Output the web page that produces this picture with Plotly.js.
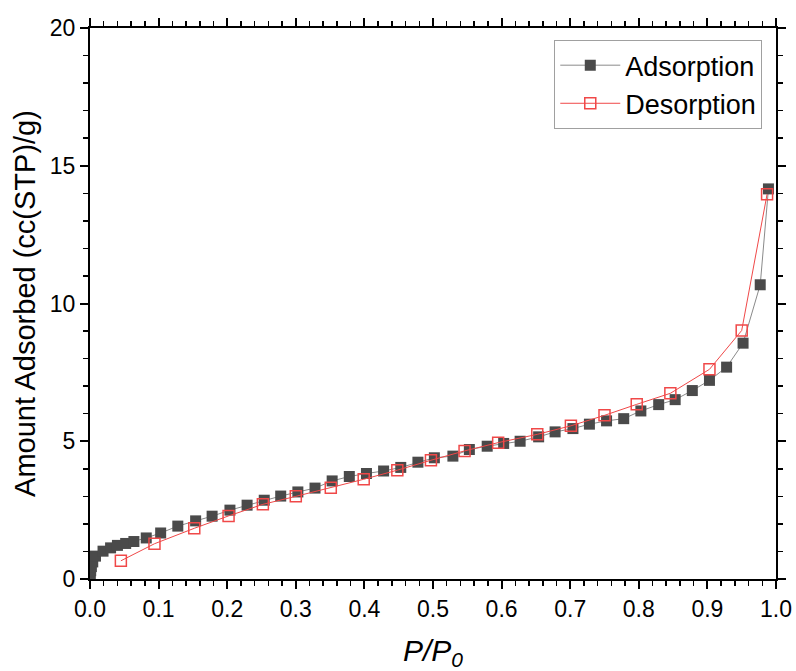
<!DOCTYPE html>
<html>
<head>
<meta charset="utf-8">
<script src="https://cdn.plot.ly/plotly-3.0.1.min.js"></script>
<style>html,body{margin:0;padding:0;background:#fff;}#chart{width:796px;height:671px;}</style>
</head>
<body>
<div id="chart"></div>
<script>
const adsX = [0.0005, 0.001, 0.002, 0.004, 0.008, 0.019, 0.030, 0.040, 0.052, 0.064, 0.082, 0.103, 0.128, 0.154, 0.178, 0.204, 0.229, 0.254, 0.278, 0.303, 0.328, 0.353, 0.378, 0.403, 0.428, 0.453, 0.478, 0.502, 0.529, 0.553, 0.579, 0.603, 0.627, 0.654, 0.678, 0.704, 0.728, 0.753, 0.778, 0.803, 0.829, 0.853, 0.878, 0.903, 0.928, 0.952, 0.977, 0.989];
const adsY = [0.15, 0.30, 0.45, 0.62, 0.83, 1.01, 1.13, 1.22, 1.29, 1.36, 1.49, 1.67, 1.92, 2.11, 2.28, 2.50, 2.68, 2.86, 3.01, 3.16, 3.30, 3.56, 3.72, 3.83, 3.92, 4.05, 4.24, 4.40, 4.46, 4.70, 4.82, 4.92, 5.00, 5.16, 5.34, 5.46, 5.62, 5.74, 5.82, 6.10, 6.33, 6.51, 6.84, 7.21, 7.69, 8.56, 10.68, 14.16];
const desX = [0.987, 0.950, 0.903, 0.846, 0.797, 0.750, 0.701, 0.652, 0.595, 0.546, 0.497, 0.448, 0.399, 0.351, 0.300, 0.252, 0.202, 0.152, 0.094, 0.045];
const desY = [13.97, 9.02, 7.61, 6.74, 6.34, 5.94, 5.56, 5.25, 4.95, 4.65, 4.31, 3.95, 3.62, 3.31, 3.00, 2.71, 2.29, 1.84, 1.28, 0.66];
const xTickVals = [0, 0.1, 0.2, 0.3, 0.4, 0.5, 0.6, 0.7, 0.8, 0.9, 1.0];
const xTickText = ["0.0", "0.1", "0.2", "0.3", "0.4", "0.5", "0.6", "0.7", "0.8", "0.9", "1.0"];
const yTickVals = [0, 5, 10, 15, 20];
const yTickText = ["0", "5", "10", "15", "20"];

const font = "Arial, 'Liberation Sans', sans-serif";
const traces = [
  {x: adsX, y: adsY, name: "Adsorption", type: "scatter", mode: "lines+markers",
   line: {color: "#8a8a8a", width: 1},
   marker: {symbol: "square", size: 11, color: "#4a4a4a", line: {width: 0}}},
  {x: desX, y: desY, name: "Desorption", type: "scatter", mode: "lines+markers",
   line: {color: "#f04848", width: 1},
   marker: {symbol: "square-open", size: 11, color: "#f04848", line: {width: 1.5}}}
];
const axisCommon = {
  showline: true, linecolor: "#000", linewidth: 2, mirror: "ticks",
  ticks: "outside", ticklen: 8, tickwidth: 2, tickcolor: "#000",
  showgrid: false, zeroline: false,
  tickfont: {family: font, size: 23, color: "#000"}
};
const layout = {
  width: 796, height: 671,
  margin: {l: 90, r: 20, t: 28, b: 92},
  paper_bgcolor: "#fff", plot_bgcolor: "#fff",
  showlegend: true,
  legend: {x: 0.98, xanchor: "right", y: 0.978, yanchor: "top",
    bordercolor: "#a0a0a0", borderwidth: 1, bgcolor: "#fff",
    font: {family: font, size: 27, color: "#000"}, itemwidth: 60, tracegroupgap: 0},
  xaxis: Object.assign({}, axisCommon, {
    range: [0, 1], tickvals: xTickVals, ticktext: xTickText,
    minor: {dtick: 0.02, tick0: 0, ticks: "outside", ticklen: 5, tickwidth: 1.5, tickcolor: "#000"},
    title: {text: "<i>P/P<sub>0</sub></i>", font: {family: font, size: 30, color: "#000"}, standoff: 20}
  }),
  yaxis: Object.assign({}, axisCommon, {
    range: [0, 20], tickvals: yTickVals, ticktext: yTickText,
    minor: {dtick: 1, tick0: 0, ticks: "outside", ticklen: 5, tickwidth: 1.5, tickcolor: "#000"},
    title: {text: "Amount Adsorbed (cc(STP)/g)", font: {family: font, size: 29, color: "#000"}, standoff: 6}
  })
};
Plotly.newPlot("chart", traces, layout, {displayModeBar: false, staticPlot: true});
</script>
</body>
</html>
